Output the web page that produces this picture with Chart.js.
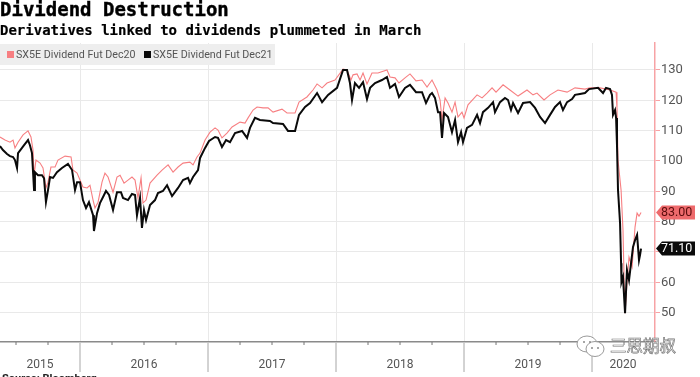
<!DOCTYPE html>
<html>
<head>
<meta charset="utf-8">
<script src="https://cdn.jsdelivr.net/npm/chart.js@4"></script>
<style>
  html, body { margin: 0; padding: 0; background: #fff; }
  #wrap { position: relative; width: 700px; height: 377px; overflow: hidden; filter: blur(0.45px); }
  #chart { position: absolute; left: 0; top: 0; }
  .title { position: absolute; left: 0; top: -2px; font: bold 19px "DejaVu Sans Mono", monospace; color: #000; -webkit-text-stroke: 0.4px #000; white-space: nowrap; }
  .subtitle { position: absolute; left: 0; top: 22px; font: bold 14px "DejaVu Sans Mono", monospace; color: #000; -webkit-text-stroke: 0.2px #000; white-space: nowrap; }
  .legend { position: absolute; left: 0; top: 44px; width: 275px; height: 21px; background: #eee; font: 10.7px Roboto, sans-serif; color: #555; }
  .legend span { position: absolute; top: 4px; white-space: nowrap; }
  .legend i { position: absolute; top: 7px; width: 7px; height: 7px; }
  .source { position: absolute; left: 2px; top: 372px; font: bold 11px Roboto, sans-serif; color: #222; }
  .mark { position: absolute; left: 610px; top: 333px; font: 16.5px "Noto Sans CJK SC", sans-serif; color: #fff; -webkit-text-stroke: 0.7px #777; white-space: nowrap; }
  svg { position: absolute; left: 576px; top: 335px; }
</style>
</head>
<body>
<div id="wrap">
  <canvas id="chart" width="700" height="377"></canvas>
  <div class="title">Dividend Destruction</div>
  <div class="subtitle">Derivatives linked to dividends plummeted in March</div>
  <div class="legend" id="legend"></div>
  <div class="source">Source: Bloomberg</div>
  <svg width="30" height="24" viewBox="0 0 30 24">
    <ellipse cx="11" cy="9" rx="10" ry="8" fill="#fff" stroke="#999"/>
    <ellipse cx="19" cy="14" rx="9" ry="7.5" fill="#fff" stroke="#999"/>
    <circle cx="8" cy="7" r="1" fill="#888"/><circle cx="14" cy="7" r="1" fill="#888"/>
    <circle cx="16" cy="13" r="1" fill="#888"/><circle cx="22" cy="13" r="1" fill="#888"/>
  </svg>
  <div class="mark">三思期叔</div>
</div>
<script>
const dec20Name = "SX5E Dividend Fut Dec20";
const dec21Name = "SX5E Dividend Fut Dec21";

const dec20Dates = [
  2015.375, 2015.414, 2015.453, 2015.477, 2015.492, 2015.516, 2015.555, 2015.594, 2015.617, 2015.633,
  2015.641, 2015.656, 2015.688, 2015.711, 2015.734, 2015.750, 2015.773, 2015.805, 2015.828, 2015.883,
  2015.930, 2015.945, 2015.977, 2016.000, 2016.023, 2016.055, 2016.078, 2016.102, 2016.117, 2016.141,
  2016.172, 2016.195, 2016.219, 2016.258, 2016.289, 2016.313, 2016.344, 2016.375, 2016.406, 2016.430,
  2016.453, 2016.477, 2016.492, 2016.516, 2016.547, 2016.602, 2016.641, 2016.688, 2016.727, 2016.766,
  2016.805, 2016.859, 2016.883, 2016.914, 2016.938, 2016.977, 2017.016, 2017.055, 2017.078, 2017.109,
  2017.148, 2017.188, 2017.250, 2017.289, 2017.313, 2017.352, 2017.383, 2017.430, 2017.469, 2017.508,
  2017.578, 2017.617, 2017.680, 2017.711, 2017.773, 2017.820, 2017.852, 2017.891, 2017.930, 2017.992,
  2018.055, 2018.086, 2018.117, 2018.133, 2018.164, 2018.188, 2018.211, 2018.242, 2018.281, 2018.328,
  2018.398, 2018.422, 2018.461, 2018.492, 2018.539, 2018.578, 2018.625, 2018.672, 2018.711, 2018.750,
  2018.789, 2018.813, 2018.828, 2018.852, 2018.875, 2018.906, 2018.930, 2018.953, 2018.984, 2019.000,
  2019.031, 2019.102, 2019.141, 2019.180, 2019.219, 2019.250, 2019.305, 2019.359, 2019.422, 2019.492,
  2019.539, 2019.570, 2019.625, 2019.672, 2019.734, 2019.805, 2019.867, 2019.945, 2019.984, 2020.063,
  2020.141, 2020.188, 2020.195, 2020.203, 2020.227, 2020.242, 2020.250, 2020.258, 2020.273, 2020.289,
  2020.313, 2020.336, 2020.352, 2020.367, 2020.383
];
const dec20Values = [
  107.9, 106.9, 106.2, 106.9, 104.3, 106.2, 108.6, 109.9, 107.9, 103.6,
  95.3, 100.3, 99.3, 97.7, 91.1, 93.0, 98.0, 98.0, 100.3, 101.6,
  101.3, 97.0, 96.0, 93.7, 91.4, 91.1, 92.0, 87.1, 84.5, 86.4,
  93.0, 96.0, 94.7, 89.7, 94.7, 95.3, 92.7, 93.7, 94.7, 93.7,
  87.8, 94.4, 86.1, 87.1, 92.7, 95.3, 97.0, 98.7, 96.3, 98.0,
  99.3, 99.6, 98.7, 101.3, 102.6, 106.9, 109.5, 110.9, 110.2, 107.6,
  109.2, 111.2, 112.8, 112.5, 114.2, 116.8, 117.8, 117.5, 117.5, 116.1,
  117.1, 115.8, 115.8, 119.4, 121.1, 123.4, 125.4, 124.1, 125.7, 126.7,
  130.3, 130.0, 126.7, 128.4, 128.7, 126.7, 129.0, 125.4, 129.0, 129.0,
  130.0, 127.7, 127.4, 125.7, 127.4, 128.7, 126.4, 126.7, 124.4, 126.7,
  123.4, 120.1, 113.5, 120.8, 119.1, 116.1, 119.4, 114.5, 116.1, 114.2,
  118.5, 121.8, 120.8, 122.4, 124.1, 122.7, 125.1, 123.4, 121.4, 123.4,
  121.8, 122.4, 120.1, 121.8, 123.4, 122.7, 124.1, 123.7, 124.1, 124.1,
  123.4, 122.7, 117.5, 100.3, 90.4, 77.2, 61.7, 49.8, 59.7, 68.3,
  65.0, 78.2, 82.8, 81.8, 83.0
];

const dec21Dates = [
  2015.375, 2015.398, 2015.430, 2015.453, 2015.477, 2015.492, 2015.508, 2015.516, 2015.547, 2015.563,
  2015.594, 2015.609, 2015.625, 2015.641, 2015.648, 2015.672, 2015.703, 2015.719, 2015.734, 2015.750,
  2015.766, 2015.789, 2015.820, 2015.859, 2015.906, 2015.938, 2015.961, 2015.977, 2016.000, 2016.023,
  2016.047, 2016.070, 2016.102, 2016.109, 2016.133, 2016.156, 2016.180, 2016.203, 2016.227, 2016.258,
  2016.289, 2016.320, 2016.336, 2016.375, 2016.406, 2016.430, 2016.445, 2016.469, 2016.484, 2016.500,
  2016.516, 2016.547, 2016.586, 2016.609, 2016.648, 2016.680, 2016.719, 2016.766, 2016.805, 2016.844,
  2016.859, 2016.883, 2016.922, 2016.938, 2016.977, 2017.008, 2017.055, 2017.078, 2017.109, 2017.141,
  2017.172, 2017.211, 2017.266, 2017.305, 2017.328, 2017.367, 2017.406, 2017.484, 2017.508, 2017.586,
  2017.625, 2017.680, 2017.711, 2017.758, 2017.797, 2017.852, 2017.891, 2017.938, 2018.008, 2018.055,
  2018.086, 2018.109, 2018.125, 2018.148, 2018.180, 2018.211, 2018.242, 2018.266, 2018.305, 2018.359,
  2018.398, 2018.422, 2018.461, 2018.492, 2018.539, 2018.578, 2018.625, 2018.672, 2018.703, 2018.734,
  2018.750, 2018.773, 2018.797, 2018.813, 2018.828, 2018.844, 2018.875, 2018.906, 2018.930, 2018.953,
  2018.977, 2018.992, 2019.023, 2019.063, 2019.102, 2019.125, 2019.148, 2019.188, 2019.227, 2019.242,
  2019.281, 2019.320, 2019.344, 2019.367, 2019.383, 2019.422, 2019.461, 2019.516, 2019.555, 2019.594,
  2019.633, 2019.672, 2019.711, 2019.750, 2019.773, 2019.805, 2019.844, 2019.867, 2019.906, 2019.945,
  2019.977, 2020.047, 2020.086, 2020.109, 2020.141, 2020.156, 2020.164, 2020.180, 2020.188, 2020.195,
  2020.203, 2020.219, 2020.227, 2020.230, 2020.242, 2020.258, 2020.273, 2020.289, 2020.320, 2020.336,
  2020.352, 2020.367, 2020.375, 2020.383
];
const dec21Values = [
  104.9, 103.6, 102.3, 101.6, 101.3, 100.3, 97.7, 102.6, 104.3, 105.2,
  106.9, 105.2, 102.6, 90.4, 96.3, 95.3, 95.3, 94.3, 86.4, 90.4,
  94.7, 94.4, 96.3, 97.7, 99.0, 97.0, 90.4, 93.0, 93.0, 87.1,
  84.5, 86.4, 82.1, 76.9, 82.8, 86.1, 88.1, 90.1, 88.8, 83.8,
  89.7, 89.7, 87.8, 87.1, 89.1, 88.8, 82.1, 87.8, 77.9, 83.8,
  80.5, 85.5, 87.1, 89.4, 90.1, 92.0, 88.4, 91.1, 93.7, 94.4,
  92.7, 94.7, 97.0, 101.0, 104.3, 106.6, 107.9, 107.6, 104.6, 106.9,
  106.2, 109.2, 109.9, 107.6, 110.9, 114.2, 113.5, 113.2, 112.5, 112.2,
  109.9, 109.9, 115.2, 117.8, 119.1, 122.4, 119.4, 121.8, 124.1, 130.0,
  130.0, 125.7, 120.1, 125.7, 124.1, 126.0, 120.4, 124.1, 125.7, 126.7,
  127.7, 124.1, 125.4, 121.1, 124.1, 125.1, 122.7, 122.7, 119.1, 121.8,
  122.4, 120.8, 116.1, 116.1, 107.6, 115.8, 114.5, 109.5, 113.5, 106.2,
  109.5, 106.2, 110.9, 111.9, 115.2, 112.5, 116.1, 117.5, 119.4, 116.1,
  119.4, 120.8, 120.1, 116.8, 119.1, 115.8, 119.1, 119.4, 117.5, 114.5,
  112.5, 115.2, 117.8, 119.4, 116.8, 119.4, 120.4, 121.8, 122.1, 122.4,
  123.7, 124.1, 122.4, 124.1, 123.7, 121.8, 115.2, 116.8, 114.2, 105.3,
  90.4, 79.5, 66.3, 60.0, 61.7, 49.8, 64.0, 60.7, 71.6, 73.9,
  75.6, 67.3, 69.0, 71.1
];

const yTicks = [50, 60, 70, 80, 90, 100, 110, 120, 130];
const yearLines = [2016, 2017, 2018, 2019, 2020];
const yearNames = ["2015", "2016", "2017", "2018", "2019", "2020"];
const yearCenters = [2015.688, 2016.5, 2017.5, 2018.5, 2019.5, 2020.242];
const quarterTicks = [2015.5, 2015.75, 2016.25, 2016.5, 2016.75, 2017.25, 2017.5, 2017.75,
  2018.25, 2018.5, 2018.75, 2019.25, 2019.5, 2019.75, 2020.25];

const red = "#f77f82";
const black = "#0a0a0a";

function toPoints(dates, values) {
  return dates.map((d, i) => ({ x: d, y: values[i] }));
}

document.getElementById("legend").innerHTML =
  '<i style="left:7px;background:' + red + '"></i><span style="left:16px">' + dec20Name + '</span>' +
  '<i style="left:144px;background:' + black + '"></i><span style="left:153px">' + dec21Name + '</span>';

// year bands under the axis and the last-value tags on the right
const axisExtras = {
  id: "axisExtras",
  afterDraw(chart) {
    const c = chart.ctx, x = chart.scales.x, y = chart.scales.y, bottom = chart.chartArea.bottom;
    c.save();
    c.strokeStyle = "#c4c4c4";
    c.lineWidth = 1.5;
    yearLines.forEach((v) => {
      const px = x.getPixelForValue(v);
      c.beginPath(); c.moveTo(px, bottom); c.lineTo(px, 372); c.stroke();
    });
    c.strokeStyle = "#777";
    c.lineWidth = 1;
    quarterTicks.forEach((v) => {
      const px = x.getPixelForValue(v);
      c.beginPath(); c.moveTo(px, bottom); c.lineTo(px, bottom + 3); c.stroke();
    });
    c.fillStyle = "#555";
    c.font = "12px Roboto, sans-serif";
    c.textAlign = "center";
    c.textBaseline = "middle";
    yearNames.forEach((n, i) => c.fillText(n, x.getPixelForValue(yearCenters[i]), 365));

    [[dec20Values, "#ee6a6c", "#5a0c0c"], [dec21Values, "#0a0a0a", "#fff"]].forEach(([vals, bg, fg]) => {
      const v = vals[vals.length - 1], py = y.getPixelForValue(v);
      c.fillStyle = bg;
      c.beginPath();
      c.moveTo(656, py); c.lineTo(662, py - 7); c.lineTo(695, py - 7);
      c.lineTo(695, py + 7); c.lineTo(662, py + 7); c.closePath(); c.fill();
      c.fillStyle = fg;
      c.font = "12.5px Roboto, sans-serif";
      c.textAlign = "left";
      c.fillText(v.toFixed(2), 661, py + 0.5);
    });
    c.restore();
  }
};

new Chart(document.getElementById("chart"), {
  type: "line",
  data: {
    datasets: [
      { label: dec20Name, data: toPoints(dec20Dates, dec20Values), borderColor: red, borderWidth: 1.1, pointRadius: 0, order: 2 },
      { label: dec21Name, data: toPoints(dec21Dates, dec21Values), borderColor: black, borderWidth: 2, pointRadius: 0, order: 1 }
    ]
  },
  options: {
    responsive: false,
    animation: false,
    layout: { padding: { left: 0, top: 43, right: 0, bottom: 35 } },
    plugins: { legend: { display: false }, tooltip: { enabled: false } },
    scales: {
      x: {
        type: "linear",
        min: 2015.375,
        max: 2020.492,
        afterBuildTicks: (s) => { s.ticks = yearLines.map((v) => ({ value: v })); },
        ticks: { display: false },
        grid: { color: "#e9e9e9", drawTicks: false },
        border: { color: "#8a8a8a", width: 1.5 }
      },
      y: {
        position: "right",
        min: 40.3,
        max: 138.9,
        afterBuildTicks: (s) => { s.ticks = yTicks.map((v) => ({ value: v })); },
        afterFit: (s) => { s.width = 45; },
        ticks: { color: "#555", font: { family: "Roboto", size: 13 }, padding: 1 },
        grid: { color: "#e9e9e9", tickColor: "#f7a3a5", tickLength: 5 },
        border: { color: "#f7a3a5", width: 1.5 }
      }
    }
  },
  plugins: [axisExtras]
});
</script>
</body>
</html>
